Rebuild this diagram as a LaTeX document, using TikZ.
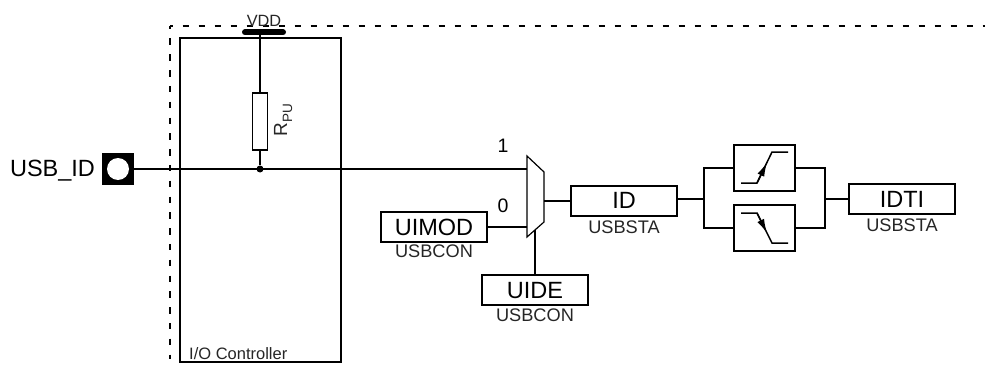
\documentclass[tikz,border=0pt]{standalone}
\usepackage{fontspec}
\setmainfont{Liberation Sans}
\usetikzlibrary{arrows.meta}
\tikzset{
  wire/.style={line width=1.9pt,line cap=butt},
  boxed/.style={draw=black,line width=1.9pt,fill=white,inner sep=0pt,outer sep=0pt,minimum width=106pt,minimum height=30.5pt,text height=17pt,text depth=0pt,font=\fontsize{23.5}{24}\selectfont},
  edgebox/.style={draw=black,line width=1.9pt,inner sep=0pt,outer sep=0pt,minimum width=61pt,minimum height=45.5pt},
  caption/.style={inner sep=0pt,outer sep=0pt,anchor=base,font=\fontsize{18.2}{19}\selectfont,text=black!85},
  biglabel/.style={inner sep=0pt,outer sep=0pt,anchor=base,font=\fontsize{23.5}{24}\selectfont},
  digit/.style={inner sep=0pt,outer sep=0pt,anchor=base,font=\fontsize{19.5}{20}\selectfont},
  slope/.style={line width=1.5pt},
  slopehead/.style={line width=1.5pt,-{Latex[length=14pt,width=7.5pt]}}
}
\begin{document}
\begin{tikzpicture}[x=1pt,y=-1pt]
\useasboundingbox (0,0) rectangle (985,369);
% enclosing dashed boundary
\coordinate (dl) at (170,358.5);
\coordinate (dc) at (170,26);
\coordinate (dr) at (985,26);
\draw[line width=1.9pt,dash pattern=on 6.5pt off 9.3pt,dash phase=3.3pt] (dc) -- (dl);
\draw[line width=1.9pt,dash pattern=on 6.5pt off 9.5pt,dash phase=3.3pt] (dc) -- (dr);
% controller
\node[draw=black,line width=1.9pt,inner sep=0pt,outer sep=0pt,minimum width=161pt,minimum height=324pt] (ctrl) at (260.5,200) {};
\node[inner sep=0pt,anchor=base west,font=\fontsize{16.5}{17}\selectfont,text=black!85] (ctrllabel) at (189,359) {I/O Controller};
% VDD
\node[inner sep=0pt,anchor=base,font=\fontsize{16.3}{17}\selectfont,text=black!85] (vddlabel) at (264,26.5) {VDD};
\coordinate (vddl) at (245,32.3);
\coordinate (vddr) at (283,32.3);
\coordinate (vddt) at (260,32.3);
\draw[line width=6pt,line cap=round] (vddl) -- (vddr);
% pull-up
\node[draw=black,line width=1.9pt,inner sep=0pt,outer sep=0pt,minimum width=15pt,minimum height=57pt] (rpu) at (260,121.5) {};
\node[inner sep=0pt,rotate=90,anchor=base,font=\fontsize{19}{20}\selectfont,text=black!85] (rpulabel) at (287,120) {R\raisebox{-5pt}{\fontsize{13.5}{14}\selectfont PU}};
\node[circle,fill=black,inner sep=0pt,minimum size=7pt] (junction) at (260,169) {};
\draw[wire] (vddt) -- (rpu.north);
\draw[wire] (rpu.south) -- (junction);
% pad
\node[biglabel] (usblabel) at (52.5,176.7) {USB\_ID};
\node[fill=black,inner sep=0pt,outer sep=0pt,minimum size=32pt] (pad) at (118,169) {};
\node[circle,fill=white,inner sep=0pt,minimum size=22pt] (padhole) at (118,169) {};
% mux
\coordinate (m1) at (527,156);
\coordinate (m2) at (544,172);
\coordinate (m3) at (544,222);
\coordinate (m4) at (527,237);
\coordinate (muxin1) at (527,169);
\coordinate (muxin0) at (527,227);
\coordinate (muxout) at (544,201);
\coordinate (muxsel) at (535,230);
\draw[line width=1.2pt,line join=miter] (m1) -- (m2) -- (m3) -- (m4) -- cycle;
\draw[wire] (pad.east |- junction) -- (muxin1);
\node[digit] (one) at (503,152) {1};
\node[digit] (zero) at (503,212) {0};
% registers
\node[boxed] (uimod) at (434,227) {UIMOD};
\node[caption] (uimodreg) at (434,257) {USBCON};
\node[boxed] (uide) at (535,290) {UIDE};
\node[caption] (uidereg) at (535,321) {USBCON};
\node[boxed,text depth=3pt] (id) at (624,201) {ID};
\node[caption] (idreg) at (624,233) {USBSTA};
\node[boxed] (idti) at (902,199) {IDTI};
\node[caption] (idtireg) at (902,231) {USBSTA};
\draw[wire] (uimod.east) -- (muxin0);
\draw[wire] (uide.north -| muxsel) -- (muxsel);
\draw[wire] (muxout) -- (id.west);
% edge detectors
\node[edgebox] (rise) at (764.5,168) {};
\node[edgebox] (fall) at (764.5,228) {};
\coordinate (splitt) at (704,168);
\coordinate (splitb) at (704,228);
\coordinate (split) at (704,199);
\coordinate (joint) at (825,168);
\coordinate (joinb) at (825,228);
\coordinate (join) at (825,199);
\draw[wire] (id.east |- split) -- (split);
\draw[wire,line join=miter] (rise.west) -- (splitt) -- (splitb) -- (fall.west);
\draw[wire,line join=miter] (rise.east) -- (joint) -- (joinb) -- (fall.east);
\draw[wire] (join) -- (idti.west);
% rising edge symbol
\coordinate (r1) at (741,183);
\coordinate (r2) at (757,183);
\coordinate (r3) at (772,152);
\coordinate (r4) at (788,152);
\coordinate (rh) at (767,162.5);
\draw[slope] (r1) -- (r2) -- (r3) -- (r4);
\draw[slopehead] (r2) -- (rh);
% falling edge symbol
\coordinate (f1) at (741,213);
\coordinate (f2) at (757,213);
\coordinate (f3) at (772,243);
\coordinate (f4) at (788,243);
\coordinate (fh) at (767,233);
\draw[slope] (f1) -- (f2) -- (f3) -- (f4);
\draw[slopehead] (f2) -- (fh);
\end{tikzpicture}
\end{document}
